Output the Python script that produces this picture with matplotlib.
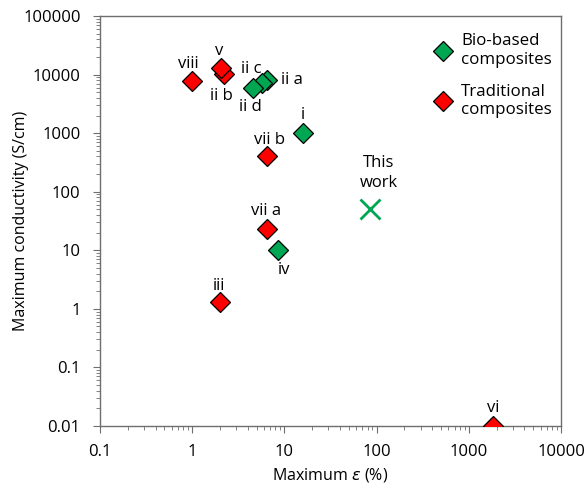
import matplotlib.pyplot as plt
from matplotlib.ticker import LogLocator, NullFormatter, FixedLocator

plt.rcParams['font.family'] = ['Open Sans', 'DejaVu Sans']

# bio-based composites (green)
bio_names = ['ii a', 'ii c', 'ii d', 'i', 'iv']
bio_strain = [6.4, 5.7, 4.6, 16.0, 8.5]
bio_cond = [8000, 7100, 6000, 1000, 10]

# traditional composites (red)
trad_names = ['viii', 'ii b', 'v', 'vii b', 'vii a', 'iii', 'vi']
trad_strain = [1.0, 2.2, 2.05, 6.4, 6.4, 2.0, 1850]
trad_cond = [7800, 10200, 13000, 400, 23, 1.3, 0.01]

# this work
work_strain = [85]
work_cond = [50]

# label offsets in points (dx, dy)
bio_offsets = [(18, 0), (-8, 10), (-2, -14), (0, 13), (4, -14)]
trad_offsets = [(-3, 12), (-2, -16), (-1, 12), (2, 12), (0, 13), (-1, 12), (0, 13)]

green = '#00A651'
red = '#FF0000'

fig = plt.figure(figsize=(5.85, 4.86), dpi=100)
ax = fig.add_axes([0.171, 0.1235, 0.788, 0.8435])

ax.plot(bio_strain, bio_cond, 'D', ms=10.2, mfc=green, mec='black', mew=0.9, linestyle='none', zorder=3)
ax.plot(trad_strain, trad_cond, 'D', ms=10.2, mfc=red, mec='black', mew=0.9, linestyle='none', zorder=3)
ax.plot(work_strain, work_cond, 'x', ms=15, mec=green, mew=2, linestyle='none', zorder=3)

for name, x, y, off in zip(bio_names, bio_strain, bio_cond, bio_offsets):
    ax.annotate(name, (x, y), xytext=off, textcoords='offset points', ha='center', va='center', fontsize=12)
for name, x, y, off in zip(trad_names, trad_strain, trad_cond, trad_offsets):
    ax.annotate(name, (x, y), xytext=off, textcoords='offset points', ha='center', va='center', fontsize=12)
ax.annotate('This\nwork', (work_strain[0], work_cond[0]), xytext=(6, 26), textcoords='offset points',
            ha='center', va='center', fontsize=12, linespacing=1.3)

ax.set_xscale('log')
ax.set_yscale('log')
ax.set_xlim(0.1, 10000)
ax.set_ylim(0.01, 100000)
ax.xaxis.set_major_locator(FixedLocator([0.1, 1, 10, 100, 1000, 10000]))
ax.yaxis.set_major_locator(FixedLocator([0.01, 0.1, 1, 10, 100, 1000, 10000, 100000]))
ax.xaxis.set_minor_locator(LogLocator(base=10, subs=range(2, 10), numticks=20))
ax.yaxis.set_minor_locator(LogLocator(base=10, subs=range(2, 10), numticks=20))
ax.xaxis.set_minor_formatter(NullFormatter())
ax.yaxis.set_minor_formatter(NullFormatter())
ax.set_xticklabels(['0.1', '1', '10', '100', '1000', '10000'])
ax.set_yticklabels(['0.01', '0.1', '1', '10', '100', '1000', '10000', '100000'])

for s in ax.spines.values():
    s.set_color('#6e6e6e')
    s.set_linewidth(1)
ax.tick_params(which='both', direction='out', color='#6e6e6e', labelsize=12)
ax.tick_params(which='major', length=5)
ax.tick_params(which='minor', length=3)
ax.tick_params(axis='x', pad=8)
ax.tick_params(axis='y', pad=9)

ax.set_xlabel('Maximum $\\varepsilon$ (%)', fontsize=11.5)
ax.set_ylabel('Maximum conductivity (S/cm)', fontsize=11.5)
ax.yaxis.set_label_coords(-0.155, 0.5)

ax.plot([], [], 'D', ms=10.2, mfc=green, mec='black', mew=0.9, linestyle='none', label='Bio-based\ncomposites')
ax.plot([], [], 'D', ms=10.2, mfc=red, mec='black', mew=0.9, linestyle='none', label='Traditional\ncomposites')
handles, labels = ax.get_legend_handles_labels()
ax.legend(handles[-2:], labels[-2:], loc='upper right', bbox_to_anchor=(1.013, 0.995), frameon=False,
          fontsize=12.2, labelspacing=0.95, handletextpad=0.3, handlelength=1.5)

fig.savefig('out.png', dpi=100)
